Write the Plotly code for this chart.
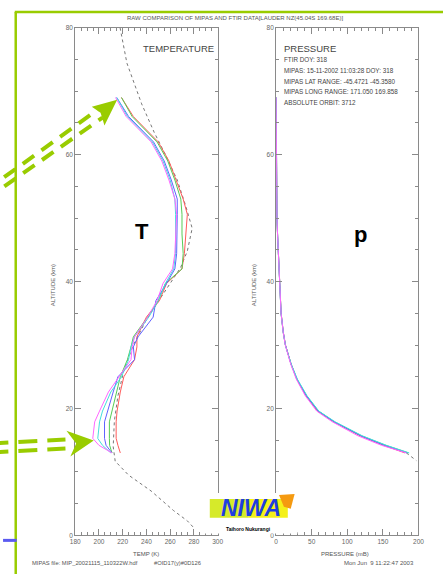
import plotly.graph_objects as go

# ---------------- data ----------------
alt_mipas = [69, 66, 62, 59, 56, 53, 50.6, 47.5, 44.4, 42, 39.7, 37, 34.4, 31.3,
             29.7, 27.7, 25, 22.6, 19.6, 17.9, 15.3, 14.2, 13]
temp_red = [219, 229, 250, 259, 265, 271, 274.5, 273, 272, 270, 257, 251, 240, 232,
            232, 230, 221, 218, 215.3, 214.5, 214.5, 216, 218]
temp_green = [219, 228, 249, 258, 264, 269, 270, 270, 271, 270, 256, 250, 241, 229,
              227, 224, 218, 215, 211, 208.8, 208.8, 209, 211]
temp_blue = [215, 225, 246, 255, 261, 266, 266, 265.5, 265.5, 264, 257, 248, 245.7, 233,
             229, 230, 216, 212, 207, 204.7, 204.7, 206, 211]
temp_cyan = [215, 224, 245, 254, 260, 264, 264.6, 264.5, 264.6, 263, 256, 250, 242, 230,
             227, 225, 219, 210, 203, 200.5, 199, 203, 210]
temp_magenta = [214, 223, 244, 253, 259, 264, 265.5, 265, 264, 262, 254, 249, 241, 230,
                228, 227, 217, 208, 200.5, 196.4, 194.8, 200, 211]

alt_ref = [80, 74.4, 68, 63.5, 60, 56, 52, 48.4, 44.8, 42.2, 38, 34, 30, 26, 22, 18,
           14, 11.7, 9.5, 7, 3.9, 2.3, 1.2]
temp_ref = [217.8, 223.6, 236, 246.6, 256, 266, 273, 278.6, 274.5, 268.8, 254, 240,
            229, 221, 216, 213, 212, 213.7, 225, 244, 263, 274.5, 280]

alt_p = [69, 65, 60, 55, 50, 47, 43, 40, 37, 35, 32, 30, 27, 24.6, 22, 19.6, 17.9,
         15.7, 14.2, 13]
p_red = [0.05, 0.1, 0.25, 0.5, 1.2, 2.2, 3.5, 4.5, 5.6, 7.1, 10.2, 13.2, 21, 29, 42,
         58, 81, 118, 151, 181]
p_green = [0.05, 0.1, 0.25, 0.5, 1.2, 2.2, 3.5, 4.5, 5.5, 7.0, 10.0, 13.0, 21, 29.5,
           43, 59.5, 82, 120, 154, 186]
p_blue = [0.05, 0.1, 0.25, 0.5, 1.2, 2.2, 3.5, 4.5, 5.5, 7.0, 10.1, 13.1, 21, 29.3,
          42.5, 59, 81.5, 119, 152, 184]
p_cyan = [0.05, 0.1, 0.25, 0.5, 1.2, 2.2, 3.5, 4.5, 5.5, 7.0, 10.0, 13.0, 21.2, 30,
          43.5, 60, 83, 121, 155, 187]
p_magenta = [0.05, 0.1, 0.25, 0.5, 1.2, 2.2, 3.5, 4.5, 5.5, 7.0, 10.0, 12.9, 20.5, 28.5,
             41, 57, 79, 115, 148, 183]
alt_p_ref = [13, 11.8]
p_ref = [183, 197]

series_names = ["red", "green", "blue", "cyan", "magenta"]
series_colors = ["#ff5a5a", "#55cc55", "#6060ff", "#44dddd", "#ff66ff"]
temps = [temp_red, temp_green, temp_blue, temp_cyan, temp_magenta]
pressures = [p_red, p_green, p_blue, p_cyan, p_magenta]

temp_ticks = [180, 200, 220, 240, 260, 280, 300]
pres_ticks = [0, 50, 100, 150, 200]
alt_ticks = [0, 20, 40, 60, 80]

# ---------------- figure ----------------
W, H = 443, 574
fig = go.Figure()

fig.add_trace(go.Scatter(x=temp_ref, y=alt_ref, mode="lines",
                         line=dict(color="#777777", width=1, dash="dot"),
                         xaxis="x", yaxis="y", showlegend=False))
for name, col, t in zip(series_names, series_colors, temps):
    fig.add_trace(go.Scatter(x=t, y=alt_mipas, mode="lines", name=name,
                             line=dict(color=col, width=1),
                             xaxis="x", yaxis="y", showlegend=False))

fig.add_trace(go.Scatter(x=p_ref, y=alt_p_ref, mode="lines",
                         line=dict(color="#777777", width=1, dash="dot"),
                         xaxis="x2", yaxis="y2", showlegend=False))
for name, col, p in zip(series_names, series_colors, pressures):
    fig.add_trace(go.Scatter(x=p, y=alt_p, mode="lines", name=name,
                             line=dict(color=col, width=1),
                             xaxis="x2", yaxis="y2", showlegend=False))


def px(x):
    return x / W


def py(y):
    return 1 - y / H


axcol = "#8a8a8a"
tickfont = dict(family="Liberation Sans", size=6.5, color="#666666")
common = dict(showgrid=False, zeroline=False, showline=True, linecolor=axcol,
              linewidth=1, mirror="allticks", ticks="inside", ticklen=6,
              tickcolor=axcol, tickwidth=1, tickfont=tickfont)

ydom = [py(538), py(24)]
fig.update_layout(
    width=W, height=H,
    margin=dict(l=0, r=0, t=0, b=0),
    paper_bgcolor="white", plot_bgcolor="white",
    xaxis=dict(domain=[px(72), px(218)], range=[180, 300], anchor="y",
               tickvals=temp_ticks,
               minor=dict(dtick=5, ticklen=3, tickcolor=axcol, ticks="inside"),
               **common),
    yaxis=dict(domain=ydom, range=[0, 80], anchor="x", tickvals=alt_ticks,
               minor=dict(dtick=5, ticklen=3, tickcolor=axcol, ticks="inside"),
               **common),
    xaxis2=dict(domain=[px(278), px(424)], range=[0, 200], anchor="y2",
                tickvals=pres_ticks,
                minor=dict(dtick=10, ticklen=3, tickcolor=axcol, ticks="inside"),
                **common),
    yaxis2=dict(domain=ydom, range=[0, 80], anchor="x2", tickvals=alt_ticks,
                minor=dict(dtick=5, ticklen=3, tickcolor=axcol, ticks="inside"),
                **common),
)

anns = []


def txt(x, y, s, size=6.5, color="#555555", xanchor="center", angle=0,
        family="Liberation Sans", bold=False, italic=False):
    if bold:
        s = "<b>" + s + "</b>"
    if italic:
        s = "<i>" + s + "</i>"
    anns.append(dict(x=px(x), y=py(y), xref="paper", yref="paper", text=s,
                     showarrow=False, xanchor=xanchor, yanchor="middle",
                     textangle=angle,
                     font=dict(family=family, size=size, color=color)))


txt(236, 14, "RAW COMPARISON OF MIPAS AND FTIR DATA[LAUDER NZ(45.04S 169.68E)]", size=6)
txt(216, 45, "TEMPERATURE", size=9.5, color="#444444", xanchor="right")
txt(284, 45, "PRESSURE", size=9.5, color="#444444", xanchor="left")
info = ["FTIR DOY: 318", "MIPAS: 15-11-2002 11:03:28 DOY: 318",
        "MIPAS LAT RANGE: -45.4721 -45.3580", "MIPAS LONG RANGE: 171.050 169.858",
        "ABSOLUTE ORBIT: 3712"]
for i, s in enumerate(info):
    txt(284, 56 + 11 * i, s, size=6.3, color="#444444", xanchor="left")
txt(49, 285, "ALTITUDE (km)", size=6, angle=-90)
txt(255, 285, "ALTITUDE (km)", size=6, angle=-90)
txt(145, 557, "TEMP (K)", size=6)
txt(349, 557, "PRESSURE (mB)", size=6)
txt(26, 566, "MIPAS file: MIP_20021115_110322W.hdf", size=5.8, xanchor="left")
txt(151, 566, "#OID17(y)#0D126", size=5.8, xanchor="left")
txt(421, 566, "Mon Jun  9 11:22:47 2003", size=6, xanchor="right")
txt(140, 230, "T", size=22, color="black", family="Liberation Sans", bold=True)
txt(365, 233, "p", size=22, color="black", family="Liberation Sans", bold=True)

shapes = []
G = "#99cc00"
# green frame
shapes.append(dict(type="line", xref="paper", yref="paper", x0=px(11), y0=py(8),
                   x1=px(11), y1=py(580), line=dict(color=G, width=2.5)))
shapes.append(dict(type="line", xref="paper", yref="paper", x0=px(10), y0=py(8),
                   x1=px(450), y1=py(8), line=dict(color=G, width=2.5)))
# blue stub
shapes.append(dict(type="line", xref="paper", yref="paper", x0=px(-2), y0=py(543),
                   x1=px(12), y1=py(543), line=dict(color="#5a5af0", width=3)))


def seg(x0, y0, x1, y1, dash="16px,8px"):
    shapes.append(dict(type="line", xref="paper", yref="paper",
                       x0=px(x0), y0=py(y0), x1=px(x1), y1=py(y1),
                       line=dict(color=G, width=4, dash=dash)))


def poly(pts, fill):
    d = "M " + " L ".join(f"{px(a)},{py(b)}" for a, b in pts) + " Z"
    shapes.append(dict(type="path", xref="paper", yref="paper", path=d,
                       fillcolor=fill, line=dict(width=0)))


# arrow 1 (upper)
seg(-20, 189, 95, 107, dash="14px,9px")
seg(-20, 198, 100, 115, dash="14px,9px")
poly([(115, 97), (89, 104), (98, 110), (102, 123)], G)
# arrow 2 (lower)
seg(-16, 445, 62, 441, dash="19px,10px")
seg(-16, 454, 62, 450, dash="19px,10px")
poly([(91, 442), (63, 432), (73, 445), (67, 458)], G)

# NIWA logo
shapes.append(dict(type="rect", xref="paper", yref="paper", x0=px(205), y0=py(536),
                   x1=px(300), y1=py(495), fillcolor="white", line=dict(width=0)))
shapes.append(dict(type="rect", xref="paper", yref="paper", x0=px(210), y0=py(520),
                   x1=px(250), y1=py(501), fillcolor="#d6ea2a", line=dict(width=0)))
shapes.append(dict(type="rect", xref="paper", yref="paper", x0=px(250), y0=py(520),
                   x1=px(290), y1=py(501), fillcolor="#f4f01a", line=dict(width=0)))
poly([(281, 497), (297, 496), (293, 511), (286, 509)], "#f59a10")
txt(252, 510, "NIWA", size=23, color="#1e3ee0", family="Liberation Sans",
    bold=True, italic=True)
txt(250, 531, "Taihoro Nukurangi", size=5, color="black", bold=True)

fig.update_layout(annotations=anns, shapes=shapes)
fig.write_html("out.html")
